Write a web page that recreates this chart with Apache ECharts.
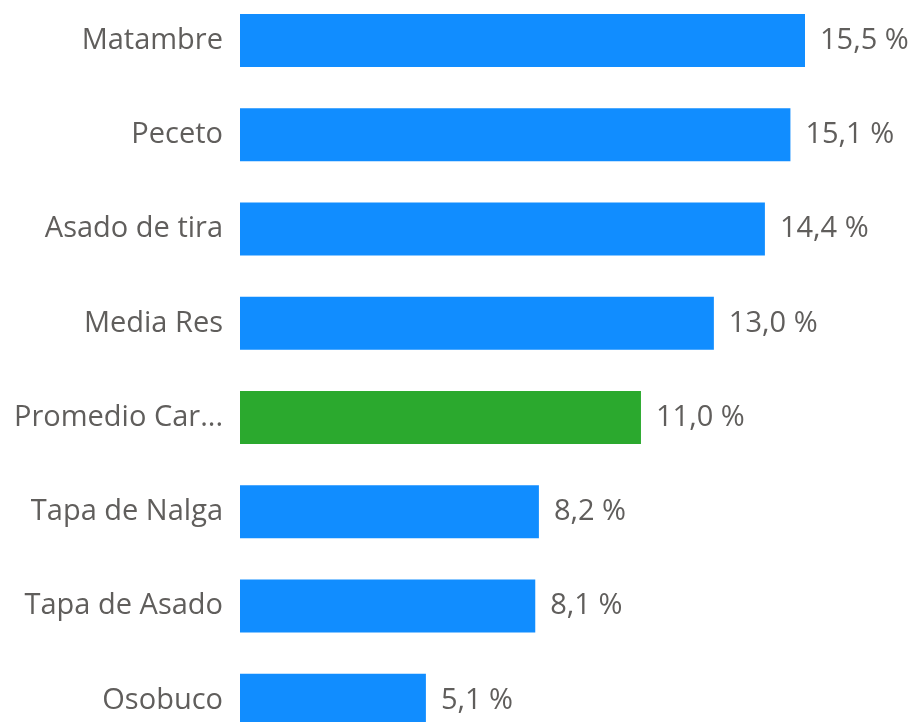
<!DOCTYPE html>
<html>
<head>
<meta charset="utf-8">
<script src="https://cdn.jsdelivr.net/npm/echarts@6/dist/echarts.min.js"></script>
<style>
    html, body { margin: 0; padding: 0; background: #fff; }
    #chart { width: 915px; height: 722px; }
</style>
</head>
<body>
<div id="chart"></div>
<script>
// datos
const categories = ['Matambre', 'Peceto', 'Asado de tira', 'Media Res', 'Promedio Car...', 'Tapa de Nalga', 'Tapa de Asado', 'Osobuco'];
const values = [15.5, 15.1, 14.4, 13.0, 11.0, 8.2, 8.1, 5.1];
const highlight = 'Promedio Car...';

const blue = '#118DFF';
const green = '#2BA92E';
const textColor = '#605E5C';

let myChart = echarts.init(document.getElementById('chart'));

let seriesData = [];
for (let i = 0; i < values.length; i++) {
    seriesData.push({
        value: values[i],
        itemStyle: { color: categories[i] === highlight ? green : blue }
    });
}

myChart.setOption({
    animation: false,
    grid: {
        left: 240,
        width: 565,
        top: -6.6,
        height: 754,
        outerBoundsMode: 'none',
        containLabel: false
    },
    xAxis: {
        type: 'value',
        min: 0,
        max: 15.5,
        show: false
    },
    yAxis: {
        type: 'category',
        data: categories,
        inverse: true,
        axisLine: { show: false },
        axisTick: { show: false },
        axisLabel: {
            margin: 17,
            color: textColor,
            fontFamily: 'Open Sans',
            fontSize: 29
        }
    },
    series: [
        {
            type: 'bar',
            data: seriesData,
            barWidth: 53,
            label: {
                show: true,
                position: 'right',
                distance: 15,
                color: textColor,
                fontFamily: 'Open Sans',
                fontSize: 29,
                formatter: function (p) {
                    return p.value.toFixed(1).replace('.', ',') + ' %';
                }
            }
        }
    ]
});
</script>
</body>
</html>
